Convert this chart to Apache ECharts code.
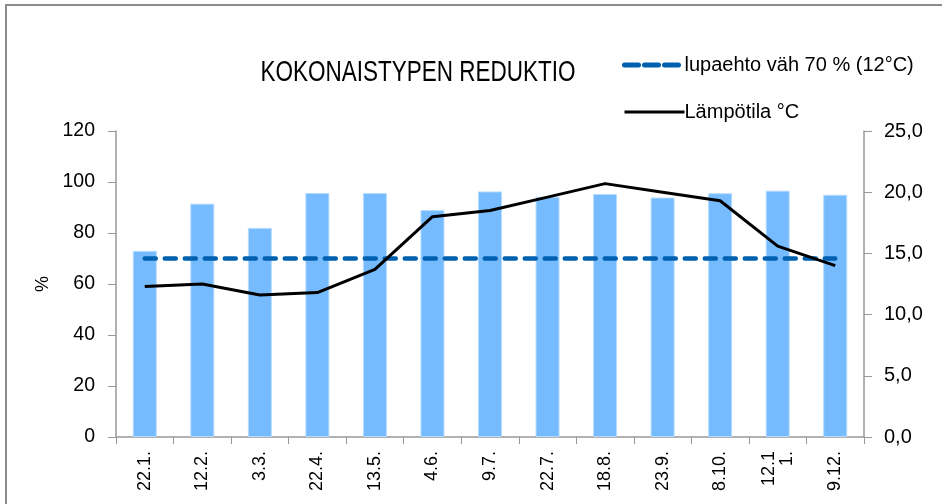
<!DOCTYPE html>
<html>
<head>
<meta charset="utf-8">
<script src="https://cdn.jsdelivr.net/npm/echarts@6/dist/echarts.min.js"></script>
<style>
  html, body { margin: 0; padding: 0; background: #fff; }
  #main { width: 942px; height: 504px; }
</style>
</head>
<body>
<div id="main"></div>
<script>
// näytepäivät
var dates = ['22.1.', '12.2.', '3.3.', '22.4.', '13.5.', '4.6.', '9.7.', '22.7.', '18.8.', '23.9.', '8.10.', '12.11.', '9.12.'];
// reduktio %
var reduction = [73, 91.5, 82, 95.7, 95.7, 89, 96.3, 94.2, 95.3, 93.9, 95.6, 96.6, 95];
// lämpötila °C
var temperature = [12.3, 12.5, 11.6, 11.8, 13.7, 18.0, 18.5, 19.6, 20.7, 20.0, 19.3, 15.6, 14.0];
// lupaehto
var limit = [70, 70, 70, 70, 70, 70, 70, 70, 70, 70, 70, 70, 70];

var plain = '"Liberation Sans", Arial, sans-serif';

var myChart = echarts.init(document.getElementById('main'));
var option = {
    animation: false,
    backgroundColor: '#fff',
    legend: {
        orient: 'vertical',
        left: 617,
        top: 50,
        itemWidth: 60,
        itemHeight: 14,
        itemGap: 27,
        itemStyle: { opacity: 0 },
        data: [{
            name: 'lupaehto väh 70 % (12°C)',
            lineStyle: { color: '#0060B0', width: 5, type: [14, 6], cap: 'round' }
        }, {
            name: 'Lämpötila °C',
            lineStyle: { color: '#000', width: 3 }
        }],
        textStyle: { fontFamily: plain, fontSize: 20, color: '#000', padding: [0, 0, 0, -5] }
    },
    grid: { left: 116, right: 78, top: 131, bottom: 67 },
    xAxis: {
        type: 'category',
        data: dates,
        axisLine: { lineStyle: { color: '#999', width: 1.5 } },
        axisTick: { show: true, length: 7, lineStyle: { color: '#999' } },
        axisLabel: {
            rotate: 90,
            interval: 0,
            margin: 14,
            fontFamily: plain,
            fontSize: 18,
            color: '#000',
            formatter: function (v) {
                return v.length > 5 ? v.slice(0, 4) + '\n' + v.slice(4) : v;
            }
        }
    },
    yAxis: [{
        type: 'value',
        min: 0, max: 120, interval: 20,
        name: '%',
        nameLocation: 'middle',
        nameRotate: 90,
        nameGap: 64,
        nameTextStyle: { fontFamily: plain, fontSize: 18, color: '#000' },
        splitLine: { show: false },
        axisLine: { show: true, lineStyle: { color: '#999', width: 1.5 } },
        axisTick: { show: true, length: 8, lineStyle: { color: '#999' } },
        axisLabel: { fontFamily: plain, fontSize: 19.5, color: '#000', margin: 21 }
    }, {
        type: 'value',
        min: 0, max: 25, interval: 5,
        position: 'right',
        splitLine: { show: false },
        axisLine: { show: true, lineStyle: { color: '#999', width: 1.5 } },
        axisTick: { show: true, length: 8, lineStyle: { color: '#999' } },
        axisLabel: {
            fontFamily: plain, fontSize: 20, color: '#000', margin: 20,
            formatter: function (v) { return v.toFixed(1).replace('.', ','); }
        }
    }],
    series: [{
        name: 'reduktio',
        type: 'bar',
        data: reduction,
        barWidth: 24,
        itemStyle: { color: '#75BBFD', borderColor: '#B5DBFF', borderWidth: 1 },
        z: 1
    }, {
        name: 'lupaehto väh 70 % (12°C)',
        type: 'line',
        data: limit,
        symbol: 'none',
        lineStyle: { color: '#0060B0', width: 4.5, type: [11, 9], cap: 'round' },
        itemStyle: { color: '#0060B0' },
        z: 3
    }, {
        name: 'Lämpötila °C',
        type: 'line',
        yAxisIndex: 1,
        data: temperature,
        symbol: 'none',
        lineStyle: { color: '#000', width: 3 },
        itemStyle: { color: '#000' },
        z: 4
    }],
    graphic: [{
        type: 'polyline',
        shape: { points: [[6, 504], [6, 5], [942, 5]] },
        style: { stroke: '#8c8c8c', lineWidth: 2, fill: null }
    }, {
        // otsikko, kapea kirjasin korkeussuunnassa venyttämällä
        type: 'text',
        x: 418,
        y: 73,
        scaleY: 1.27,
        style: {
            text: 'KOKONAISTYPEN REDUKTIO',
            font: '22.5px "Liberation Sans", Arial, sans-serif',
            fill: '#000',
            align: 'center',
            verticalAlign: 'middle'
        }
    }]
};
myChart.setOption(option);
</script>
</body>
</html>
